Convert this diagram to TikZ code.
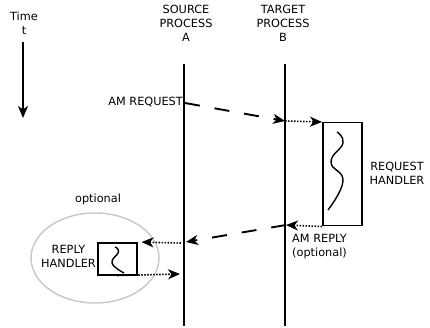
\documentclass[tikz,border=0pt]{standalone}
\usepackage{fontspec}
\setmainfont{DejaVu Sans}
\usetikzlibrary{arrows.meta,shapes.geometric}
\tikzstyle{Label}=[font=\fontsize{11.3}{14}\selectfont, align=center, inner sep=0pt, text=black]
\tikzstyle{Handler}=[draw=black, line width=1.5pt, fill=white, shape=rectangle, inner sep=0pt]
\tikzstyle{Optional}=[draw=black!22, line width=1.4pt, shape=ellipse, inner sep=0pt]
\tikzstyle{lifeline}=[line width=1.8pt]
\tikzstyle{message}=[line width=1.9pt, dash pattern=on 15pt off 15pt, -{Stealth[length=12pt,width=10pt,inset=3.5pt]}]
\tikzstyle{hop}=[line width=1.6pt, dash pattern=on 1.5pt off 1.5pt, -{Stealth[length=12pt,width=10pt,inset=3.5pt]}]
\pgfdeclarelayer{nodelayer}
\pgfdeclarelayer{edgelayer}
\pgfsetlayers{nodelayer, edgelayer}

\begin{document}
\begin{tikzpicture}[x=1pt, y=-1pt]
	\useasboundingbox (0,0) rectangle (430,328);
	\begin{pgfonlayer}{nodelayer}
		\node [style=Label, anchor=north] (time) at (24, 12) {Time\\t};
		\node [style=Label, anchor=north] (source) at (186, 5) {SOURCE\\PROCESS\\A};
		\node [style=Label, anchor=north] (target) at (283, 5) {TARGET\\PROCESS\\B};
		\node [style=Label, anchor=base east] (amrequest) at (183, 106) {AM REQUEST};
		\node [style=Label, anchor=north] (reqlabel) at (397, 162) {REQUEST\\HANDLER};
		\node [style=Label, anchor=north west, align=left] (amreply) at (292, 234) {AM REPLY\\(optional)};
		\node [style=Label, anchor=north] (optlabel) at (98, 194) {optional};
		\node [style=Optional, minimum width=128pt, minimum height=90pt] (optional) at (95, 258) {};
		\node [style=Label, anchor=north east] (replylabel) at (96, 245) {REPLY\\HANDLER};
		\node [style=Handler, anchor=north west, minimum width=39pt, minimum height=103pt] (reqhandler) at (322, 122) {};
		\node [style=Handler, anchor=north west, minimum width=39pt, minimum height=32pt] (replyhandler) at (97, 242) {};

		% squiggles inside the handlers
		\draw [line width=1.4pt] plot [smooth, tension=0.8] coordinates {(337,132) (343,143) (331,162) (343,181) (328,210)};
		\draw [line width=1.4pt] plot [smooth, tension=0.8] coordinates {(115,247) (118.5,252) (112,263) (124,273)};
	\end{pgfonlayer}
	\begin{pgfonlayer}{edgelayer}
		\coordinate (timetop) at (23, 42);
		\coordinate (timebot) at (23, 118);
		\coordinate (atop) at (184, 64);
		\coordinate (abot) at (184, 326);
		\coordinate (btop) at (285, 64);
		\coordinate (bbot) at (285, 326);
		\coordinate (a1) at (185, 103);
		\coordinate (b1) at (285, 121);
		\coordinate (b2) at (286, 225);
		\coordinate (a2) at (186, 242);
		\coordinate (a3) at (181, 243);
		\coordinate (a4) at (180, 274);

		\draw [line width=1.8pt, -{Stealth[length=12pt,width=10pt,inset=3.5pt]}] (timetop) to (timebot);
		\draw [style=lifeline] (atop) to (abot);
		\draw [style=lifeline] (btop) to (bbot);

		\draw [style=message] (a1) to (b1);
		\draw [style=hop] (b1) to (reqhandler.north west);
		\draw [style=hop] (reqhandler.south west) to (b2);
		\draw [style=message] (b2) to (a2);
		\draw [style=hop, shorten >=4pt] (a3) to (replyhandler.north east);
		\draw [style=hop] (replyhandler.south) to (a4);
	\end{pgfonlayer}
\end{tikzpicture}
\end{document}
